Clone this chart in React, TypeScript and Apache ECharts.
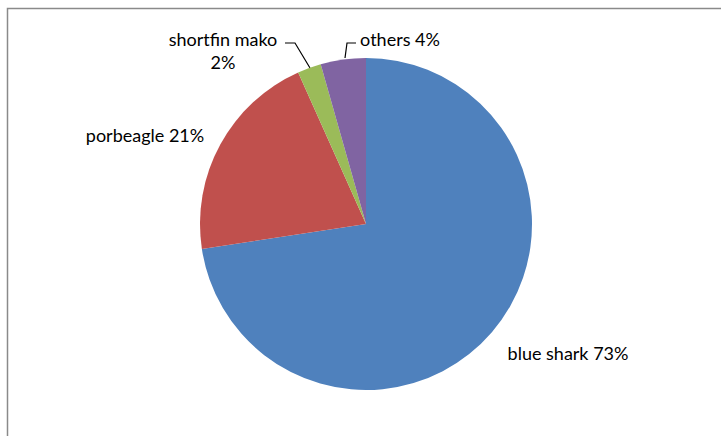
import React, { useEffect, useRef } from "react";
import * as echarts from "echarts";

const names = ["blue shark", "porbeagle", "shortfin mako", "others"];
const values = [72.6, 20.7, 2.3, 4.4];
const colors = ["#4F81BD", "#C0504D", "#9BBB59", "#8064A2"];

// label anchor positions (centre of label text) and leader lines
const labelPos: [number, number][] = [
  [568, 353],
  [145, 135],
  [223, 50],
  [400, 39],
];
const leaderLines: ([number, number][] | null)[] = [
  null,
  null,
  [[310, 68], [295, 43], [285, 43]],
  [[345, 58], [347, 43], [356, 43]],
];

export default function App() {
  const ref = useRef<HTMLDivElement>(null);
  useEffect(() => {
    if (!ref.current) return;
    const chart = echarts.init(ref.current, undefined, { renderer: "svg" });
    chart.setOption({
      animation: false,
      backgroundColor: "#ffffff",
      graphic: [
        {
          type: "rect",
          shape: { x: 7.5, y: 8.5, width: 800, height: 500 },
          style: { fill: "none", stroke: "#8a8a8a", lineWidth: 1.5 },
          silent: true,
        },
      ],
      series: [
        {
          type: "pie",
          center: [366, 224],
          radius: [0, 166],
          startAngle: 90,
          clockwise: true,
          avoidLabelOverlap: false,
          itemStyle: { borderWidth: 0 },
          label: {
            show: true,
            position: "outside",
            color: "#000000",
            fontFamily: "Lato, 'Open Sans', sans-serif",
            fontSize: 18,
            lineHeight: 23,
            align: "center",
            formatter: (p: any) =>
              p.dataIndex === 2
                ? `${p.name}\n${Math.round(p.percent)}%`
                : `${p.name} ${Math.round(p.percent)}%`,
          },
          labelLine: {
            show: true,
            lineStyle: { color: "#000000", width: 1.2 },
          },
          labelLayout: (p: any) => {
            const [x, y] = labelPos[p.dataIndex];
            const pts = leaderLines[p.dataIndex];
            const res: any = { x, y, align: "center", verticalAlign: "middle" };
            if (pts) res.labelLinePoints = pts;
            return res;
          },
          data: names.map((n, i) => ({
            name: n,
            value: values[i],
            itemStyle: { color: colors[i] },
            labelLine: { show: leaderLines[i] !== null },
          })),
        },
      ],
    });
    return () => chart.dispose();
  }, []);
  return (
    <div
      ref={ref}
      style={{ position: "absolute", left: 0, top: 0, width: 721, height: 436 }}
    />
  );
}
